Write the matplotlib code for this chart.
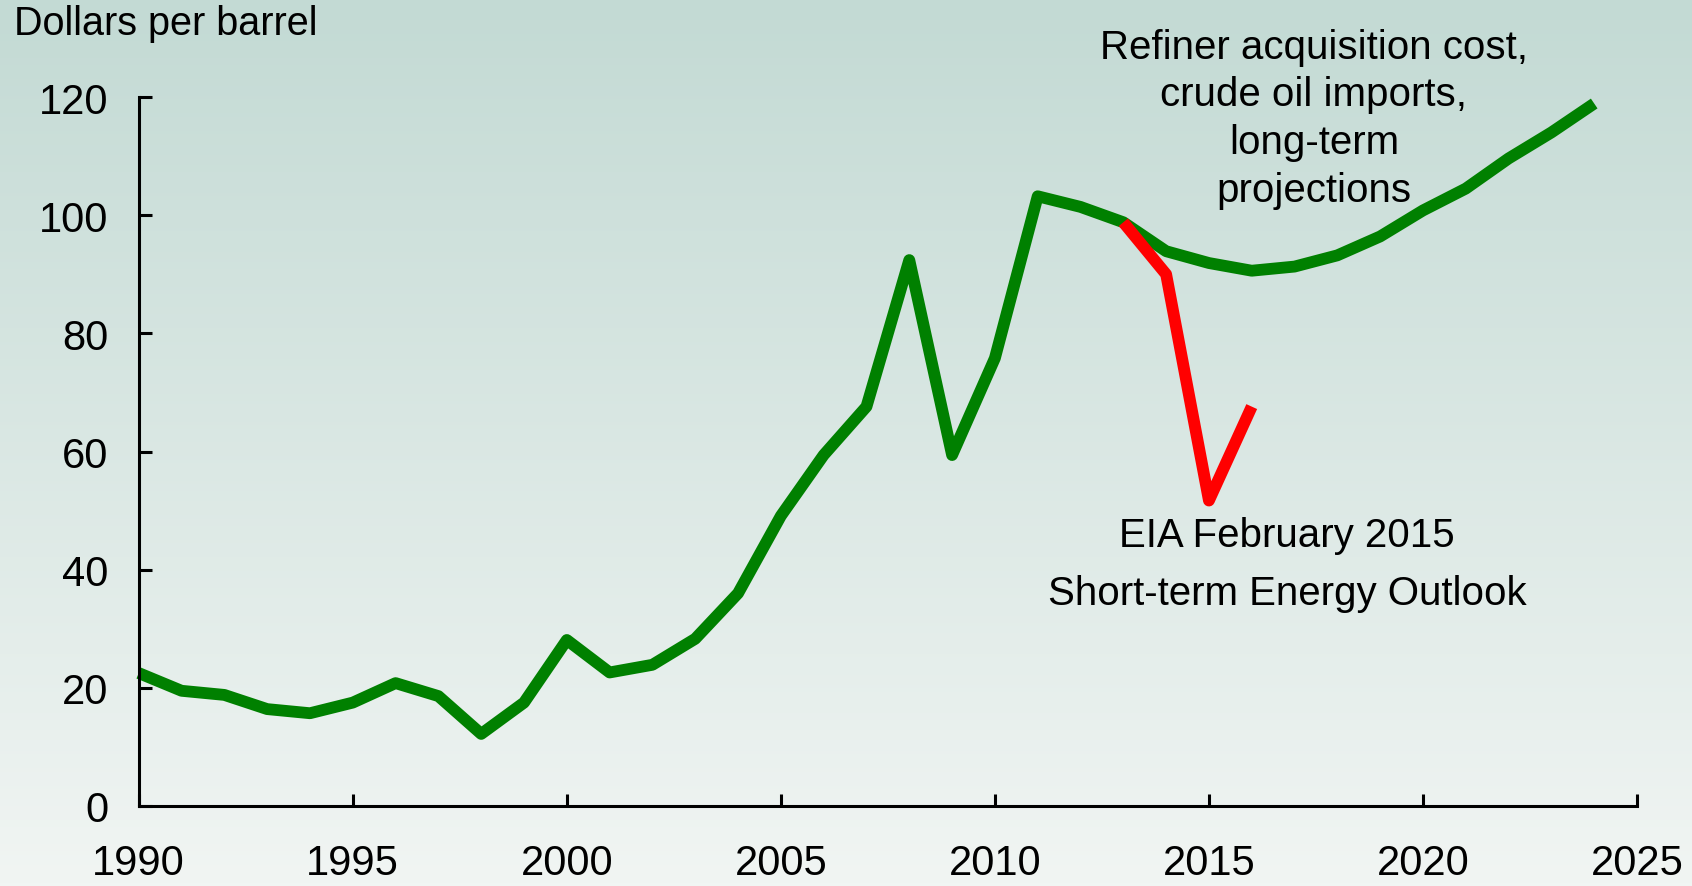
import numpy as np
import matplotlib.pyplot as plt

plt.rcParams['font.family'] = ['Liberation Sans', 'DejaVu Sans']

# Data
years = list(range(1990, 2025))
rac_cost = [22.5, 19.5, 18.8, 16.4, 15.7, 17.5, 20.8, 18.6, 12.2, 17.5,
            28.1, 22.6, 23.9, 28.3, 36.0, 49.1, 59.4, 67.6, 92.4, 59.4,
            75.8, 103.2, 101.4, 98.8, 93.9, 91.9, 90.6, 91.3, 93.2, 96.4,
            100.8, 104.5, 109.6, 114.0, 118.9]

steo_years = [2013, 2014, 2015, 2016]
steo_cost = [98.8, 90.0, 51.7, 67.6]

x_ticks = [1990, 1995, 2000, 2005, 2010, 2015, 2020, 2025]
y_ticks = [0, 20, 40, 60, 80, 100, 120]

fig = plt.figure(figsize=(16.92, 8.87), dpi=100)

# Background gradient
bg = fig.add_axes([0, 0, 1, 1], zorder=-1)
top = np.array([195, 218, 212]) / 255
bottom = np.array([241, 245, 243]) / 255
t = np.linspace(0, 1, 256)[:, None]
grad = top * (1 - t) + bottom * t
bg.imshow(grad[:, None, :], aspect='auto', extent=[0, 1, 0, 1])
bg.axis('off')

ax = fig.add_axes([0.082, 0.0902, 0.8855, 0.7993])
ax.patch.set_alpha(0)

ax.plot(years, rac_cost, color='#008000', linewidth=8.5, solid_joinstyle='round',
        solid_capstyle='butt', clip_on=False)
ax.plot(steo_years, steo_cost, color='#ff0000', linewidth=8.5, solid_joinstyle='round',
        solid_capstyle='butt', clip_on=False)

ax.set_xlim(1990, 2025)
ax.set_ylim(0, 120)
ax.set_xticks(x_ticks)
ax.set_yticks(y_ticks)

for side in ['top', 'right']:
    ax.spines[side].set_visible(False)
for side in ['left', 'bottom']:
    ax.spines[side].set_linewidth(2.2)

ax.tick_params(axis='both', direction='in', length=9, width=2.2,
               labelsize=30)
ax.tick_params(axis='x', pad=27)
ax.tick_params(axis='y', pad=22)

fig.text(0.008, 0.973, 'Dollars per barrel', fontsize=28.5, va='center', ha='left')

ax.text(2017.45, 116.4, 'Refiner acquisition cost,\ncrude oil imports,\nlong-term\nprojections',
        fontsize=29, ha='center', va='center', linespacing=1.32, clip_on=False)
ax.text(2016.83, 41, 'EIA February 2015\nShort-term Energy Outlook',
        fontsize=29, ha='center', va='center', linespacing=1.66)

fig.savefig('out.png', dpi=100)
